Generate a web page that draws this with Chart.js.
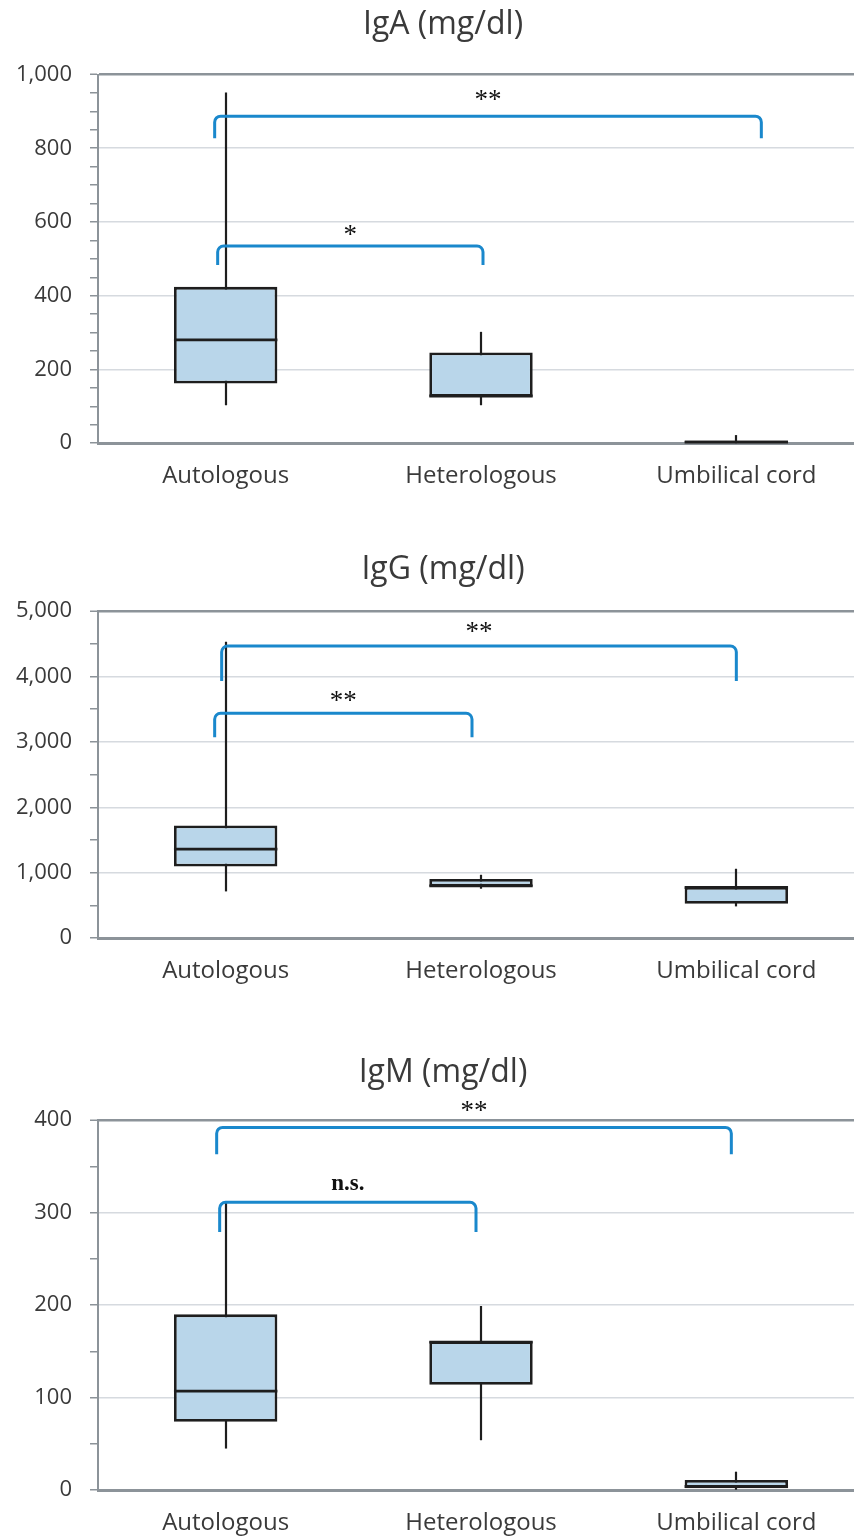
<!DOCTYPE html>
<html>
<head>
<meta charset="utf-8">
<script src="https://cdn.jsdelivr.net/npm/chart.js@4.4.1/dist/chart.umd.min.js"></script>
<style>
  html, body { margin: 0; padding: 0; background: #fff; width: 854px; height: 1540px; overflow: hidden; }
  canvas { position: absolute; left: 0; }
  .title {
    position: absolute; left: 0; width: 886px; text-align: center;
    font: 32px/38.4px 'Open Sans', 'Noto Sans', sans-serif; color: #3a3a3a;
  }
</style>
</head>
<body>
<canvas id="iga" width="864" height="510" style="top:0px"></canvas>
<canvas id="igg" width="864" height="465" style="top:540px"></canvas>
<canvas id="igm" width="864" height="527" style="top:1030px"></canvas>
<div class="title" style="top:2.8px">IgA (mg/dl)</div>
<div class="title" style="top:547.8px">IgG (mg/dl)</div>
<div class="title" style="top:1050.8px">IgM (mg/dl)</div>
<script>
const categories = ['Autologous', 'Heterologous', 'Umbilical cord'];

// IgA (mg/dl)
const igaMin    = [103, 103, 0];
const igaQ1     = [162, 126, 1];
const igaMedian = [280, 128, 3];
const igaQ3     = [424, 246, 7];
const igaMax    = [951, 302, 22];
const igaTicks  = [0, 200, 400, 600, 800, 1000];
const igaPairs  = [[0, 2], [0, 1]];
const igaTops   = [887, 535];
const igaEnds   = [827, 483];
const igaMarks  = ['**', '*'];

// IgG (mg/dl)
const iggMin    = [715, 756, 486];
const iggQ1     = [1096, 791, 527];
const iggMedian = [1362, 800, 775];
const iggQ3     = [1722, 904, 782];
const iggMax    = [4530, 969, 1061];
const iggTicks  = [0, 1000, 2000, 3000, 4000, 5000];
const iggPairs  = [[0, 2], [0, 1]];
const iggTops   = [4466, 3438];
const iggEnds   = [3931, 3072];
const iggMarks  = ['**', '**'];

// IgM (mg/dl)
const igmMin    = [45, 54, 0.5];
const igmQ1     = [74, 114, 2];
const igmMedian = [107, 160, 4];
const igmQ3     = [190, 161, 11];
const igmMax    = [312, 199, 20];
const igmTicks  = [0, 100, 200, 300, 400];
const igmPairs  = [[0, 2], [0, 1]];
const igmTops   = [392, 311];
const igmEnds   = [363, 279];
const igmMarks  = ['**', 'n.s.'];

const INK = '#1e1e1e';
const TEXT = '#3a3a3a';
const AXIS = '#8c9399';
const GRID = '#d6dadf';
const BOX_FILL = '#b9d6ea';
const BRACKET = '#1a88cc';
const FONT = "'Open Sans', 'Noto Sans', sans-serif";

Chart.defaults.font.family = FONT;

const extras = {};

const boxExtras = {
  id: 'boxExtras',
  beforeDatasetsDraw(chart) {
    const e = extras[chart.canvas.id];
    const x = chart.scales.x, y = chart.scales.y, ctx = chart.ctx;
    ctx.save();
    ctx.strokeStyle = INK;
    ctx.lineWidth = 2.2;
    e.min.forEach((v, i) => {
      const px = Math.round(x.getPixelForValue(i));
      ctx.beginPath();
      ctx.moveTo(px, y.getPixelForValue(e.max[i]));
      ctx.lineTo(px, y.getPixelForValue(v));
      ctx.stroke();
    });
    ctx.restore();
  },
  afterDatasetsDraw(chart) {
    const e = extras[chart.canvas.id];
    const x = chart.scales.x, y = chart.scales.y, ctx = chart.ctx;
    const bars = chart.getDatasetMeta(0).data;
    ctx.save();
    // medians
    ctx.strokeStyle = INK;
    ctx.lineWidth = 2.8;
    e.median.forEach((v, i) => {
      const b = bars[i];
      const py = y.getPixelForValue(v);
      ctx.beginPath();
      ctx.moveTo(b.x - b.width / 2, py);
      ctx.lineTo(b.x + b.width / 2, py);
      ctx.stroke();
    });
    // significance brackets
    e.pairs.forEach((p, k) => {
      const nudge = e.look.nudge[k];
      const x1 = x.getPixelForValue(p[0]) + nudge[0];
      const x2 = x.getPixelForValue(p[1]) + nudge[1];
      const yt = y.getPixelForValue(e.tops[k]);
      const ye = y.getPixelForValue(e.ends[k]);
      ctx.strokeStyle = BRACKET;
      ctx.lineWidth = 3;
      ctx.beginPath();
      ctx.moveTo(x1, ye);
      ctx.arcTo(x1, yt, x2, yt, 6);
      ctx.arcTo(x2, yt, x2, ye, 6);
      ctx.lineTo(x2, ye);
      ctx.stroke();
      const mark = e.marks[k];
      ctx.fillStyle = '#111';
      ctx.textAlign = 'center';
      ctx.textBaseline = 'alphabetic';
      ctx.font = mark === 'n.s.' ? "bold 23px 'Liberation Serif', serif" : "27px 'Liberation Serif', serif";
      ctx.fillText(mark, (x1 + x2) / 2, yt - e.look.rise[k]);
    });
    ctx.restore();
  }
};

function makeBoxChart(id, d, axis, look) {
  extras[id] = Object.assign({ look }, d);
  const majors = axis.ticks;
  const top = majors[majors.length - 1];
  return new Chart(document.getElementById(id), {
    type: 'bar',
    data: {
      labels: categories,
      datasets: [{
        data: d.q1.map((v, i) => [v, d.q3[i]]),
        backgroundColor: BOX_FILL,
        borderColor: INK,
        borderWidth: 2.8,
        borderSkipped: false,
        barPercentage: 0.405,
        categoryPercentage: 1
      }]
    },
    options: {
      responsive: false,
      animation: false,
      devicePixelRatio: 1,
      layout: { padding: { left: 0, right: 0, top: look.top, bottom: 0 } },
      plugins: {
        legend: { display: false },
        tooltip: { enabled: false },
        title: { display: false }
      },
      scales: {
        x: {
          grid: { display: false, drawTicks: false },
          border: { display: true, color: AXIS, width: 3 },
          ticks: { color: TEXT, font: { size: 24 }, padding: 19, maxRotation: 0 }
        },
        y: {
          min: 0,
          max: top,
          afterFit(s) { s.width = 98; },
          ticks: {
            stepSize: axis.minor,
            autoSkip: false,
            maxTicksLimit: 100,
            padding: 18,
            color: TEXT,
            font: { size: 22 },
            callback: v => majors.includes(v) ? v.toLocaleString('en-US') : ''
          },
          grid: {
            color: c => c.tick && majors.includes(c.tick.value) ? (c.tick.value === top ? AXIS : GRID) : 'rgba(0,0,0,0)',
            lineWidth: c => c.tick && c.tick.value === top ? 2.5 : 1.5,
            tickColor: AXIS,
            tickWidth: 1.5,
            tickLength: 8
          },
          border: { display: true, color: AXIS, width: 2 }
        }
      }
    },
    plugins: [boxExtras]
  });
}

makeBoxChart('iga',
  { min: igaMin, q1: igaQ1, median: igaMedian, q3: igaQ3, max: igaMax,
    pairs: igaPairs, tops: igaTops, ends: igaEnds, marks: igaMarks },
  { ticks: igaTicks, minor: 50 },
  { top: 74.5, nudge: [[-11, 25], [-8, 2]], rise: [8, 3] });

makeBoxChart('igg',
  { min: iggMin, q1: iggQ1, median: iggMedian, q3: iggQ3, max: iggMax,
    pairs: iggPairs, tops: iggTops, ends: iggEnds, marks: iggMarks },
  { ticks: iggTicks, minor: 500 },
  { top: 71, nudge: [[-4, 0], [-11, -9]], rise: [6, 4] });

makeBoxChart('igm',
  { min: igmMin, q1: igmQ1, median: igmMedian, q3: igmQ3, max: igmMax,
    pairs: igmPairs, tops: igmTops, ends: igmEnds, marks: igmMarks },
  { ticks: igmTicks, minor: 50 },
  { top: 90, nudge: [[-9, -5], [-6, -5]], rise: [8, 12] });
</script>
</body>
</html>
